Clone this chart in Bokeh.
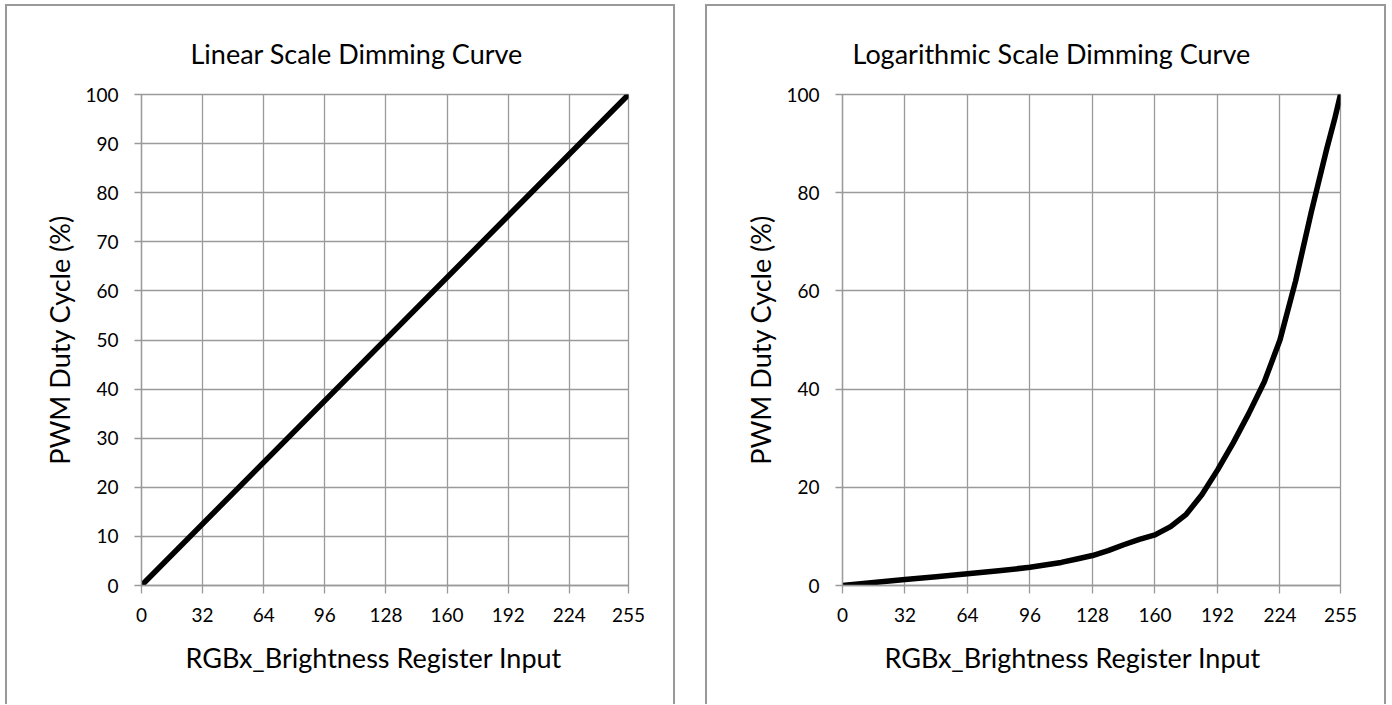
from bokeh.plotting import figure
from bokeh.layouts import row
from bokeh.models import Title, FixedTicker, Range1d
from bokeh.embed import file_html
from bokeh.resources import INLINE

# ---- data ----
x_ticks = [0, 32, 64, 96, 128, 160, 192, 224, 255]
lin_y_ticks = [0, 10, 20, 30, 40, 50, 60, 70, 80, 90, 100]
log_y_ticks = [0, 20, 40, 60, 80, 100]

lin_x = [0, 255]
lin_y = [0, 100]

log_x = [0, 16, 32, 48, 64, 80, 96, 112, 120, 128, 136, 144, 152, 160, 168, 176, 184, 192, 200,
         208, 216, 224, 232, 236, 240, 244, 248, 252, 255]
log_y = [0, 0.6, 1.2, 1.8, 2.4, 3.0, 3.7, 4.7, 5.4, 6.1, 7.1, 8.3, 9.4, 10.3, 12.0, 14.5, 18.5, 23.5, 29,
         35, 41.5, 50, 62, 69, 76, 82.5, 89, 95, 100]

titles = ["Linear Scale Dimming Curve", "Logarithmic Scale Dimming Curve"]
x_label = "RGBx_Brightness Register Input"
y_label = "PWM Duty Cycle (%)"

FONT = "Lato"
GRID = "#9a9a9a"
BOX = "#999999"
H = 700


def make(title, xs, ys, yticks, width, mb_left, mb_right, title_off, xl_off):
    p = figure(width=width, height=H, output_backend="svg", toolbar_location=None,
               x_range=Range1d(0, 255), y_range=Range1d(0, 100),
               min_border_left=mb_left, min_border_right=mb_right,
               min_border_top=90, min_border_bottom=H - 581,
               background_fill_color="white", border_fill_color=None,
               styles={"box-shadow": f"inset 2px 0 0 0 {BOX}, inset -2px 0 0 0 {BOX}, inset 0 2px 0 0 {BOX}"})
    p.title.text = title
    p.title.align = "left"
    p.title.offset = title_off
    p.title.text_font = FONT
    p.title.text_font_size = "27px"
    p.title.text_font_style = "normal"
    p.title.text_color = "black"
    p.title.standoff = 50

    p.outline_line_color = GRID
    p.outline_line_width = 1.3

    p.xaxis.ticker = FixedTicker(ticks=x_ticks)
    p.yaxis.ticker = FixedTicker(ticks=yticks)
    for ax in (p.xaxis, p.yaxis):
        ax.axis_line_color = GRID
        ax.axis_line_width = 1.3
        ax.major_tick_line_color = GRID
        ax.major_tick_line_width = 1.3
        ax.minor_tick_line_color = None
        ax.major_tick_in = 0
        ax.major_label_text_font = FONT
        ax.major_label_text_font_size = "19px"
        ax.major_label_text_color = "black"
    p.xaxis.major_tick_out = 8
    p.yaxis.major_tick_out = 7
    p.xaxis.major_label_standoff = 14
    p.yaxis.major_label_standoff = 16

    p.yaxis.axis_label = y_label
    p.yaxis.axis_label_text_font = FONT
    p.yaxis.axis_label_text_font_size = "27px"
    p.yaxis.axis_label_text_font_style = "normal"
    p.yaxis.axis_label_text_color = "black"
    p.yaxis.axis_label_standoff = 6

    xt = Title(text=x_label, align="left", offset=xl_off, text_font=FONT,
               text_font_size="27px", text_font_style="normal", text_color="black",
               standoff=28)
    p.add_layout(xt, "below")

    p.grid.grid_line_color = GRID
    p.grid.grid_line_width = 1.3

    p.line(xs, ys, line_color="black", line_width=5.5, line_join="round", line_cap="round")
    return p


p1 = make(titles[0], lin_x, lin_y, lin_y_ticks, 670, 136, 47, 49, 44)
p2 = make(titles[1], log_x, log_y, log_y_ticks, 681, 137, 46, 10, 42)

layout = row(p1, p2, spacing=30, styles={"margin-left": "5px", "margin-top": "4px"})

open("out.html", "w").write(file_html(layout, INLINE))
